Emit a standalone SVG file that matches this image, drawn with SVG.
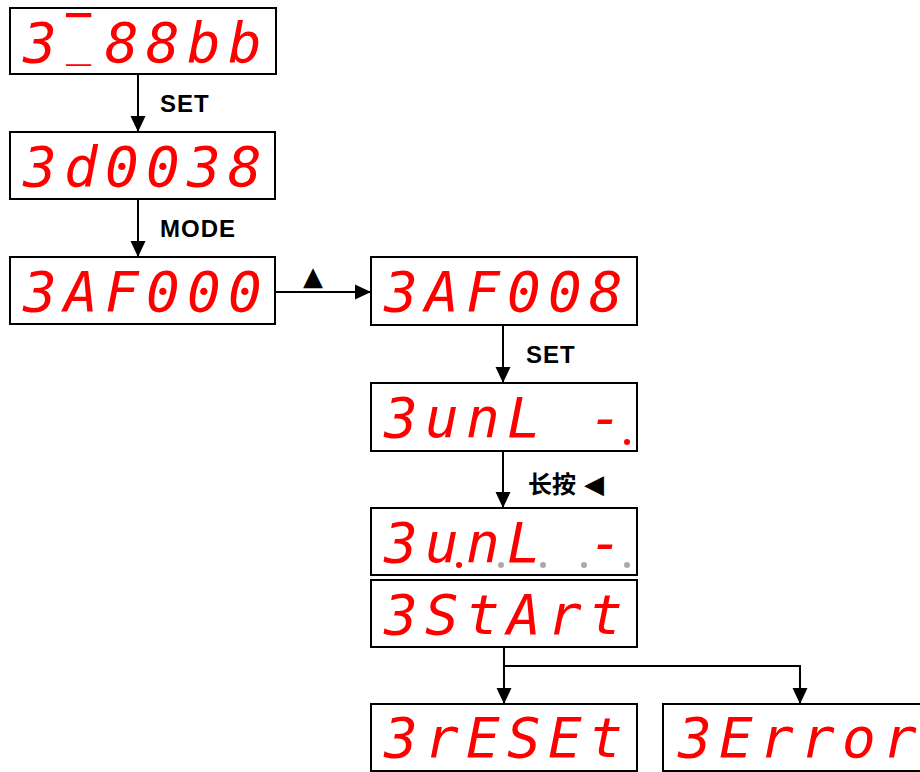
<svg xmlns="http://www.w3.org/2000/svg" width="920" height="772" viewBox="0 0 920 772">
<style>
.box{fill:#fff;stroke:#000;stroke-width:2}
.led{font-family:"DejaVu Sans Mono","Liberation Mono",monospace;font-style:oblique;font-size:56px;fill:#ff0000}
.on{fill:#ff0000}
.off{fill:#aaaaaa}
.lbl{font-family:"Liberation Sans",Arial,sans-serif;font-weight:bold;font-size:24px;letter-spacing:1px;fill:#000}
.cjk{font-family:"Noto Sans CJK SC","Liberation Sans",sans-serif;font-weight:bold;font-size:24px;fill:#000}
.sym{font-family:"DejaVu Sans",sans-serif;font-weight:normal;font-size:26px;fill:#000}
.con{fill:none;stroke:#000;stroke-width:2}
</style>
<defs>
<marker id="ah" viewBox="0 0 16 16" refX="16" refY="8" markerWidth="16" markerHeight="16" markerUnits="userSpaceOnUse" orient="auto"><path d="M0,0.5 L16,8 L0,15.5 z" fill="#000"/></marker>
</defs>
<rect width="920" height="772" fill="#fff"/>
<g id="connectors">
<line class="con" x1="138" y1="74" x2="138" y2="132" marker-end="url(#ah)"/>
<line class="con" x1="138" y1="199" x2="138" y2="257" marker-end="url(#ah)"/>
<line class="con" x1="276" y1="292" x2="371" y2="292" marker-end="url(#ah)"/>
<line class="con" x1="503" y1="325" x2="503" y2="383" marker-end="url(#ah)"/>
<line class="con" x1="503" y1="451" x2="503" y2="508" marker-end="url(#ah)"/>
<line class="con" x1="504" y1="647" x2="504" y2="704" marker-end="url(#ah)"/>
<polyline class="con" points="504,666 800,666 800,704" marker-end="url(#ah)"/>
<text class="lbl" x="160" y="112">SET</text>
<text class="lbl" x="160" y="237">MODE</text>
<text class="sym" x="303" y="285">▲</text>
<text class="lbl" x="526" y="363">SET</text>
<text class="cjk" x="528" y="493">长按<tspan class="sym" dx="8">◀</tspan></text>
</g>
<g id="n1">
<rect class="box" x="10" y="8" width="266" height="66"/>
<text class="led" y="62"><tspan x="23">3</tspan><tspan x="66" y="56" style="font-size:42px;text-decoration:overline">_</tspan><tspan x="105 146 187 228" y="62">88bb</tspan></text>
</g>
<g id="n2">
<rect class="box" x="10" y="132" width="265" height="67"/>
<text class="led" x="23 64 105 146 187 228" y="186">3d0038</text>
</g>
<g id="n3">
<rect class="box" x="10" y="257" width="265" height="67"/>
<text class="led" x="23 64 105 146 187 228" y="311">3AF000</text>
</g>
<g id="n4">
<rect class="box" x="371" y="257" width="266" height="68"/>
<text class="led" x="384 425 466 507 548 589" y="311">3AF008</text>
</g>
<g id="n5">
<rect class="box" x="371" y="383" width="266" height="68"/>
<text class="led" x="384 425 466 507 548 589" y="437">3unL -</text>
<circle class="on" cx="627" cy="442" r="3"/>
</g>
<g id="n6">
<rect class="box" x="371" y="508" width="266" height="67"/>
<text class="led" x="384 425 466 507 548 589" y="562">3unL -</text>
<circle class="on" cx="459" cy="565" r="3"/>
<circle class="off" cx="501" cy="565" r="3"/>
<circle class="off" cx="543" cy="565" r="3"/>
<circle class="off" cx="584" cy="565" r="3"/>
<circle class="off" cx="627" cy="565" r="3"/>
</g>
<g id="n7">
<rect class="box" x="371" y="580" width="266" height="67"/>
<text class="led" x="384 425 466 507 548 589" y="634">3StArt</text>
</g>
<g id="n8">
<rect class="box" x="371" y="704" width="266" height="67"/>
<text class="led" x="384 425 466 507 548 589" y="757">3rESEt</text>
</g>
<g id="n9">
<rect class="box" x="663" y="704" width="270" height="67"/>
<text class="led" x="678 719 760 801 842 883" y="757">3Error</text>
</g>
</svg>
